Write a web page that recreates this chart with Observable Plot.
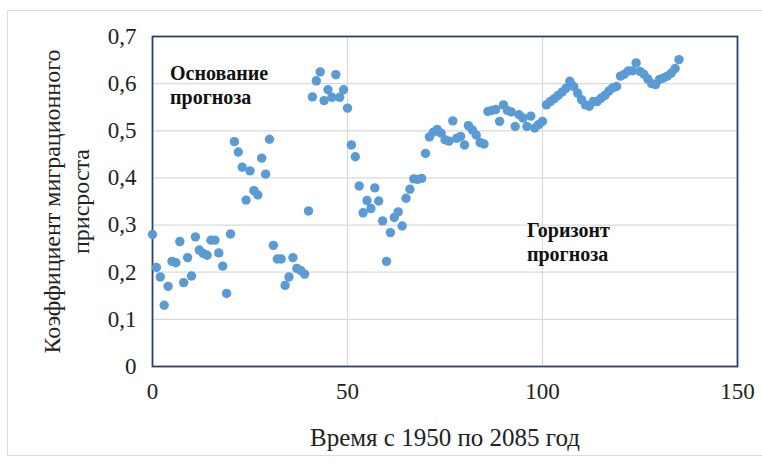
<!DOCTYPE html>
<html>
<head>
<meta charset="utf-8">
<script src="https://cdn.jsdelivr.net/npm/d3@7"></script>
<script src="https://cdn.jsdelivr.net/npm/@observablehq/plot@0.6"></script>
<style>
  html, body { margin: 0; padding: 0; background: #fff; overflow: hidden; }
  #wrap { position: relative; width: 762px; height: 465px; }
  #border { position: absolute; left: 7px; top: 10px; width: 780px; height: 444px; border: 1px solid #dcdcdc; pointer-events: none; }
  svg { display: block; }
</style>
</head>
<body>
<div id="wrap"><div id="border"></div></div>
<script>
// Time index (0 = 1950 ... 135 = 2085)
const years = d3.range(0, 136);
// Migration growth coefficient
const coef = [
  0.28, 0.21, 0.19, 0.13, 0.17, 0.223, 0.22, 0.265, 0.178, 0.231,
  0.192, 0.275, 0.247, 0.24, 0.236, 0.268, 0.268, 0.241, 0.213, 0.155,
  0.281, 0.477, 0.455, 0.423, 0.353, 0.415, 0.373, 0.364, 0.442, 0.408,
  0.482, 0.257, 0.228, 0.228, 0.172, 0.19, 0.231, 0.208, 0.204, 0.196,
  0.33, 0.572, 0.606, 0.625, 0.564, 0.587, 0.571, 0.619, 0.571, 0.587,
  0.548, 0.47, 0.445, 0.383, 0.326, 0.352, 0.335, 0.379, 0.351, 0.309,
  0.223, 0.284, 0.316, 0.328, 0.298, 0.357, 0.376, 0.398, 0.397, 0.399,
  0.452, 0.487, 0.497, 0.503, 0.495, 0.481, 0.478, 0.521, 0.484, 0.488,
  0.47, 0.511, 0.502, 0.491, 0.475, 0.472, 0.541, 0.543, 0.545, 0.52,
  0.555, 0.543, 0.54, 0.509, 0.534, 0.527, 0.509, 0.531, 0.506, 0.513,
  0.52, 0.555, 0.562, 0.568, 0.575, 0.582, 0.59, 0.605, 0.594, 0.58,
  0.566, 0.555, 0.552, 0.562, 0.562, 0.569, 0.575, 0.584, 0.591, 0.594,
  0.616, 0.62, 0.627, 0.627, 0.644, 0.626, 0.62, 0.61, 0.6, 0.598,
  0.609, 0.612, 0.616, 0.622, 0.632, 0.651
];
const xTicks = [0, 50, 100, 150];
const yTicks = [0, 0.1, 0.2, 0.3, 0.4, 0.5, 0.6, 0.7];
const xTitle = "Время с 1950 по 2085 год";
const yTitle = "Коэффициент миграционного\nприсроста";
const noteText = ["Основание\nпрогноза", "Горизонт\nпрогноза"];
const noteX = [4.5, 96];
const noteY = [0.556, 0.224];

const data = years.map((t, i) => ({t, v: coef[i]}));
const notes = noteText.map((s, i) => ({s, x: noteX[i], y: noteY[i]}));
const fmt = v => v === 0 ? "0" : d3.format(".1f")(v).replace(".", ",");
const serif = "'Liberation Serif', 'Times New Roman', serif";

const chart = Plot.plot({
  width: 762,
  height: 465,
  marginLeft: 152,
  marginRight: 25,
  marginTop: 36,
  marginBottom: 99,
  style: {fontFamily: serif, background: "transparent", color: "#222"},
  x: {domain: [0, 150]},
  y: {domain: [0, 0.7]},
  marks: [
    Plot.gridY(yTicks, {stroke: "#d9d9d9", strokeOpacity: 1, strokeWidth: 1.2}),
    Plot.gridX([50, 100], {stroke: "#d9d9d9", strokeOpacity: 1, strokeWidth: 1.2}),
    Plot.axisY(yTicks, {tickSize: 0, tickPadding: 16, tickFormat: fmt, fontSize: 23, label: null}),
    Plot.axisX(xTicks, {tickSize: 0, tickPadding: 16, fontSize: 23, label: null}),
    Plot.frame({stroke: "#2c3e6b", strokeWidth: 1.8}),
    Plot.dot(data, {x: "t", y: "v", r: 4.7, fill: "#5b9bd5", stroke: null}),
    Plot.text(notes, {x: "x", y: "y", text: "s", textAnchor: "start", lineAnchor: "bottom", fontSize: 20, fontWeight: "bold", lineHeight: 1.22, fill: "#111"}),
    Plot.text([xTitle], {frameAnchor: "bottom", dy: 71, lineAnchor: "middle", fontSize: 25, fill: "#222"}),
    Plot.text([yTitle], {frameAnchor: "left", dx: -87, rotate: -90, textAnchor: "middle", lineAnchor: "middle", fontSize: 24, lineHeight: 1.17, fill: "#222"})
  ]
});
document.getElementById("wrap").appendChild(chart);
</script>
</body>
</html>
